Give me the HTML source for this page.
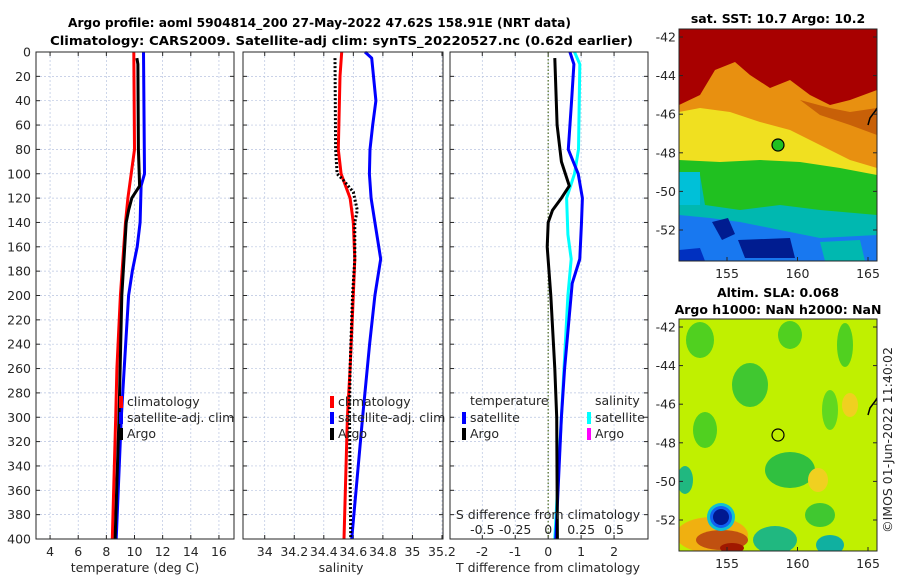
<!DOCTYPE html>
<html><head><meta charset="utf-8">
<style>
html,body{margin:0;padding:0;background:#fff;}
svg{display:block;font-family:"DejaVu Sans","Liberation Sans",sans-serif;}
.t{font-size:12.5px;fill:#262626;}
.b{font-size:12.5px;font-weight:bold;fill:#000;}
.grid{stroke:#b8c4e0;stroke-width:0.7;stroke-dasharray:2,2;}
</style></head>
<body>
<svg id="fig" width="900" height="580" viewBox="0 0 900 580">
<rect width="900" height="580" fill="#fff"/>
<text class="b" x="68" y="27" textLength="503" lengthAdjust="spacingAndGlyphs">Argo profile: aoml 5904814_200 27-May-2022 47.62S 158.91E (NRT data)</text>
<text class="b" x="50" y="45" textLength="583" lengthAdjust="spacingAndGlyphs">Climatology: CARS2009. Satellite-adj clim: synTS_20220527.nc (0.62d earlier)</text>
<g id="p1"></g>
<g id="p2"></g>
<g id="p3"></g>

<!-- SST map -->
<g>
<text class="b" x="778" y="23" text-anchor="middle">sat. SST: 10.7 Argo: 10.2</text>
<clipPath id="c1"><rect x="679" y="29" width="198" height="232"/></clipPath>
<g clip-path="url(#c1)">
<rect x="679" y="29" width="198" height="232" fill="#a80000"/>
<path d="M679,105 L700,95 L715,70 L735,62 L750,75 L770,88 L790,80 L810,95 L830,105 L850,100 L877,90 L877,261 L679,261 Z" fill="#e89010"/>
<path d="M800,100 L830,108 L850,112 L877,108 L877,135 L850,125 L820,115 Z" fill="#c86008"/>
<path d="M679,112 L700,108 L730,112 L760,122 L790,130 L820,145 L850,160 L877,168 L877,261 L679,261 Z" fill="#f0e020"/>
<path d="M679,160 L720,162 L760,160 L800,162 L840,168 L877,175 L877,261 L679,261 Z" fill="#20c020"/>
<path d="M679,172 L700,175 L705,205 L740,210 L780,205 L820,210 L877,215 L877,261 L679,261 Z" fill="#00b8b0"/>
<path d="M679,172 L700,172 L700,205 L679,205 Z" fill="#00c0d8"/>
<path d="M679,215 L710,218 L740,222 L780,230 L820,238 L877,235 L877,261 L679,261 Z" fill="#1878f0"/>
<path d="M712,222 L728,218 L735,234 L722,240 Z" fill="#001c90"/>
<path d="M738,240 L790,238 L795,258 L745,258 Z" fill="#001c90"/>
<path d="M679,250 L700,248 L705,261 L679,261 Z" fill="#0030c0"/>
<path d="M820,242 L860,240 L865,261 L825,261 Z" fill="#00b8b0"/>
<circle cx="778" cy="145" r="6" fill="#20c020" stroke="#000" stroke-width="1.2"/>
<path d="M868,125 L870,118 L876,110 L877,108" fill="none" stroke="#000" stroke-width="1.5"/>
</g>
<rect x="679" y="29" width="198" height="232" fill="none" stroke="#262626" stroke-width="1"/>
</g>

<!-- SLA map -->
<g>
<text class="b" x="778" y="297" text-anchor="middle">Altim. SLA: 0.068</text>
<text class="b" x="778" y="314" text-anchor="middle">Argo h1000: NaN h2000: NaN</text>
<clipPath id="c2"><rect x="679" y="319" width="198" height="232"/></clipPath>
<g clip-path="url(#c2)">
<rect x="679" y="319" width="198" height="232" fill="#c0f000"/>
<ellipse cx="700" cy="340" rx="14" ry="18" fill="#50d020"/>
<ellipse cx="750" cy="385" rx="18" ry="22" fill="#40c830"/>
<ellipse cx="790" cy="335" rx="12" ry="14" fill="#50d020"/>
<ellipse cx="845" cy="345" rx="8" ry="22" fill="#50d020"/>
<ellipse cx="705" cy="430" rx="12" ry="18" fill="#50d020"/>
<ellipse cx="790" cy="470" rx="25" ry="18" fill="#30c040"/>
<ellipse cx="830" cy="410" rx="8" ry="20" fill="#60d820"/>
<ellipse cx="685" cy="480" rx="8" ry="14" fill="#20b880"/>
<ellipse cx="820" cy="515" rx="15" ry="12" fill="#40c830"/>
<ellipse cx="775" cy="540" rx="22" ry="14" fill="#20b880"/>
<ellipse cx="830" cy="545" rx="14" ry="10" fill="#10b0a0"/>
<ellipse cx="850" cy="405" rx="8" ry="12" fill="#f0d020"/>
<ellipse cx="818" cy="480" rx="10" ry="12" fill="#f0d020"/>
<ellipse cx="712" cy="535" rx="36" ry="18" fill="#f0b010"/>
<ellipse cx="722" cy="540" rx="26" ry="10" fill="#c05010"/>
<ellipse cx="732" cy="548" rx="12" ry="5" fill="#a01800"/>
<circle cx="721" cy="517" r="14" fill="#10c0d0"/>
<circle cx="721" cy="517" r="11" fill="#1060f0"/>
<circle cx="721" cy="517" r="8" fill="#001890"/>
<circle cx="778" cy="435" r="6" fill="none" stroke="#000" stroke-width="1.2"/>
<path d="M868,415 L870,408 L876,400 L877,398" fill="none" stroke="#000" stroke-width="1.5"/>
</g>
<rect x="679" y="319" width="198" height="232" fill="none" stroke="#262626" stroke-width="1"/>
<text class="t" transform="translate(892,440) rotate(-90)" text-anchor="middle">©IMOS 01-Jun-2022 11:40:02</text>
</g>
<g id="mapticks"></g>
</svg>
<script>
// ---- data ----
const tempClimDepth = [0, 80, 120, 140, 200, 260, 300, 400];
const tempClim      = [9.95, 10.0, 9.53, 9.36, 9.0, 8.75, 8.66, 8.42];
const tempSatDepth  = [0, 100, 110, 140, 160, 180, 200, 260, 300, 400];
const tempSat       = [10.64, 10.71, 10.47, 10.4, 10.19, 9.84, 9.58, 9.27, 9.06, 8.7];
const tempArgoDepth = [5, 10, 80, 110, 120, 130, 140, 200, 300, 400];
const tempArgo      = [10.17, 10.24, 10.28, 10.36, 9.81, 9.58, 9.41, 9.1, 8.9, 8.62];

const salClimDepth = [0, 20, 80, 100, 120, 140, 170, 200, 260, 300, 400];
const salClim      = [34.521, 34.51, 34.498, 34.517, 34.578, 34.60, 34.61, 34.60, 34.578, 34.56, 34.537];
const salSatDepth  = [0, 5, 40, 60, 80, 100, 120, 140, 170, 200, 240, 300, 400];
const salSat       = [34.679, 34.724, 34.753, 34.731, 34.713, 34.709, 34.72, 34.746, 34.785, 34.746, 34.71, 34.663, 34.589];
const salArgoDepth = [5, 80, 100, 105, 115, 130, 140, 170, 200, 260, 300, 400];
const salArgo      = [34.476, 34.48, 34.49, 34.53, 34.60, 34.627, 34.61, 34.61, 34.594, 34.578, 34.574, 34.582];

const dTArgoDepth = [5, 60, 90, 110, 120, 130, 140, 160, 200, 260, 300, 400];
const dTArgo      = [0.20, 0.27, 0.40, 0.64, 0.40, 0.13, 0.0, -0.03, 0.08, 0.20, 0.26, 0.28];
const dTSatDepth  = [0, 10, 40, 80, 100, 120, 140, 170, 190, 260, 300, 400];
const dTSat       = [0.66, 0.78, 0.71, 0.61, 0.91, 1.04, 1.01, 0.96, 0.73, 0.5, 0.4, 0.23];
const dSSatDepth  = [0, 10, 80, 100, 120, 150, 170, 200, 300, 400];
const dSSat       = [0.20, 0.24, 0.23, 0.20, 0.14, 0.15, 0.175, 0.15, 0.10, 0.05];

const depthTicks = [0,20,40,60,80,100,120,140,160,180,200,220,240,260,280,300,320,340,360,380,400];
const tempTicks = [4,6,8,10,12,14,16];
const salTicks = [34,34.2,34.4,34.6,34.8,35,35.2];
const salTickLabels = ["34","34.2","34.4","34.6","34.8","35","35.2"];
const dTTicks = [-2,-1,0,1,2];
const dSTicks = [-0.5,-0.25,0,0.25,0.5];
const latTicks = [-42,-44,-46,-48,-50,-52];
const lonTicks = [155,160,165];

// ---- helpers ----
const NS = "http://www.w3.org/2000/svg";
const TOP = 52, BOT = 539;
function yD(d){ return TOP + (d/400)*(BOT-TOP); }
function mk(tag, attrs, parent){
  const e = document.createElementNS(NS, tag);
  for (const k in attrs) e.setAttribute(k, attrs[k]);
  parent.appendChild(e); return e;
}
function panel(g, x0, x1, xmin, xmax, gridVals){
  const sx = v => x0 + (v - xmin)/(xmax - xmin)*(x1 - x0);
  for (const d of depthTicks){
    const l = mk('line',{x1:x0,x2:x1,y1:yD(d),y2:yD(d),class:'grid'},g);
    
    
    mk('line',{x1:x0,x2:x0+4,y1:yD(d),y2:yD(d),stroke:'#262626'},g);
    mk('line',{x1:x1-4,x2:x1,y1:yD(d),y2:yD(d),stroke:'#262626'},g);
  }
  for (const v of gridVals){
    const l = mk('line',{x1:sx(v),x2:sx(v),y1:TOP,y2:BOT,class:'grid'},g);
    
    
    mk('line',{x1:sx(v),x2:sx(v),y1:BOT-4,y2:BOT,stroke:'#262626'},g);
    mk('line',{x1:sx(v),x2:sx(v),y1:TOP,y2:TOP+4,stroke:'#262626'},g);
  }
  return sx;
}
function frame(g,x0,x1){
  const r = mk('rect',{x:x0,y:TOP,width:x1-x0,height:BOT-TOP,fill:'none',stroke:'#262626','stroke-width':1},g);
  
  
}
function series(g, sx, depths, vals, color, name, dash){
  const pts = depths.map((d,i)=> sx(vals[i]).toFixed(1)+','+yD(d).toFixed(1)).join(' ');
  const p = mk('polyline',{points:pts,fill:'none',stroke:color,'stroke-width':3,'stroke-linejoin':'round'},g);
  if (dash) p.setAttribute('stroke-dasharray', dash);
  
  
}
function text(g, x, y, s, anchor, name, cls){
  const t = mk('text',{x:x,y:y,'text-anchor':anchor||'start',class:cls||'t'},g);
  t.textContent = s;
  
  
  return t;
}
function legItem(g, x, y, color, label, name){
  mk('rect',{x:x,y:y-9,width:4,height:12,fill:color},g);
  text(g, x+8, y+1, label, 'start', name);
}

// ---- panel 1 ----
const g1 = document.getElementById('p1');
const sx1 = panel(g1, 36, 234, 3, 17.07, tempTicks);
series(g1, sx1, tempClimDepth, tempClim, '#ff0000', 'temperature-climatology-line');
series(g1, sx1, tempSatDepth, tempSat, '#0000ff', 'temperature-satellite-line');
series(g1, sx1, tempArgoDepth, tempArgo, '#000000', 'temperature-argo-line');
frame(g1,36,234);
for (const d of depthTicks) text(g1, 31, yD(d)+4.5, String(d), 'end', 'depth-tick-label');
for (const v of tempTicks) text(g1, sx1(v), 556, String(v), 'middle', 'temperature-tick-label');
text(g1, 135, 572, 'temperature (deg C)', 'middle', 'temperature-axis-title');
legItem(g1, 119, 405, '#ff0000', 'climatology', 'legend-climatology');
legItem(g1, 119, 421, '#0000ff', 'satellite-adj. clim', 'legend-satellite');
legItem(g1, 119, 437, '#000000', 'Argo', 'legend-argo');

// ---- panel 2 ----
const g2 = document.getElementById('p2');
const sx2 = panel(g2, 243, 443, 33.853, 35.207, salTicks);
series(g2, sx2, salClimDepth, salClim, '#ff0000', 'salinity-climatology-line');
series(g2, sx2, salSatDepth, salSat, '#0000ff', 'salinity-satellite-line');
series(g2, sx2, salArgoDepth, salArgo, '#000000', 'salinity-argo-line', '2,2');
frame(g2,243,443);
salTicks.forEach((v,i)=> text(g2, sx2(v), 556, salTickLabels[i], 'middle', 'salinity-tick-label'));
text(g2, 341, 572, 'salinity', 'middle', 'salinity-axis-title');
legItem(g2, 330, 405, '#ff0000', 'climatology', 'legend-climatology');
legItem(g2, 330, 421, '#0000ff', 'satellite-adj. clim', 'legend-satellite');
legItem(g2, 330, 437, '#000000', 'Argo', 'legend-argo');

// ---- panel 3 ----
const g3 = document.getElementById('p3');
const sx3 = panel(g3, 450, 648, -2.98, 3.03, dTTicks);
const sxS = v => sx3(v*4);
const z = mk('line',{x1:sx3(0),x2:sx3(0),y1:TOP,y2:BOT,stroke:'#4a6a20','stroke-width':1.2,'stroke-dasharray':'1.5,2'},g3);


series(g3, sxS, dSSatDepth, dSSat, '#00ffff', 'salinity-difference-satellite-line');
series(g3, sx3, dTSatDepth, dTSat, '#0000ff', 'temperature-difference-satellite-line');
series(g3, sx3, dTArgoDepth, dTArgo, '#000000', 'temperature-difference-argo-line');
frame(g3,450,648);
for (const v of dTTicks) text(g3, sx3(v), 556, String(v), 'middle', 'dt-tick-label');
text(g3, 548, 572, 'T difference from climatology', 'middle', 'dt-axis-title');
text(g3, 548, 519, 'S difference from climatology', 'middle', 'ds-axis-title');
for (const v of dSTicks) text(g3, sxS(v), 534, String(v), 'middle', 'ds-tick-label');
text(g3, 470, 405, 'temperature', 'start', 'legend-temperature-header');
text(g3, 595, 405, 'salinity', 'start', 'legend-salinity-header');
legItem(g3, 462, 421, '#0000ff', 'satellite', 'legend-temperature-satellite');
legItem(g3, 462, 437, '#000000', 'Argo', 'legend-temperature-argo');
legItem(g3, 587, 421, '#00ffff', 'satellite', 'legend-salinity-satellite');
legItem(g3, 587, 437, '#ff00ff', 'Argo', 'legend-salinity-argo');

// ---- map ticks ----
const gm = document.getElementById('mapticks');
function mapTicks(lat42y, lat52y, x0, x1, bot){
  const ly = v => lat42y + (v + 42)/(-10)*(lat52y - lat42y);
  const lx = v => 727 + (v - 155)/10*(868 - 727);
  for (const v of latTicks){
    text(gm, 676, ly(v)+4.5, String(v), 'end', 'latitude-tick-label');
    mk('line',{x1:x0,x2:x0+4,y1:ly(v),y2:ly(v),stroke:'#262626'},gm);
    mk('line',{x1:x1-4,x2:x1,y1:ly(v),y2:ly(v),stroke:'#262626'},gm);
  }
  for (const v of lonTicks){
    text(gm, lx(v), bot+17, String(v), 'middle', 'longitude-tick-label');
    mk('line',{x1:lx(v),x2:lx(v),y1:bot-4,y2:bot,stroke:'#262626'},gm);
  }
}
mapTicks(37, 230, 679, 877, 261);
mapTicks(327, 520, 679, 877, 551);
</script>
</body></html>
